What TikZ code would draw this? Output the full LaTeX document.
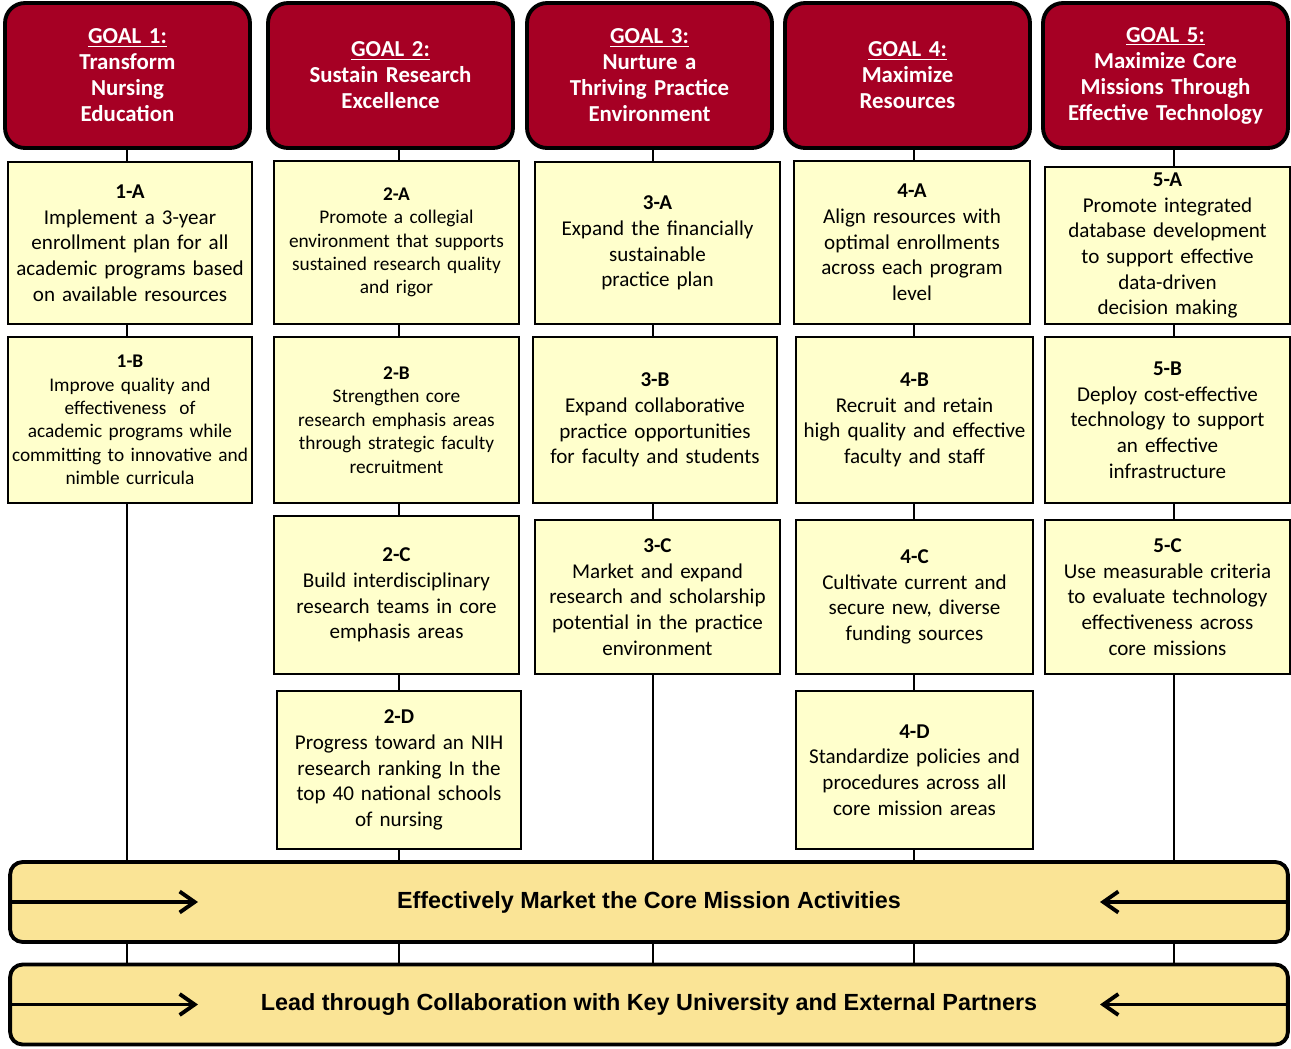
\documentclass[tikz,border=0pt]{standalone}
\usepackage{fontspec}
\setmainfont{Carlito}
\newfontfamily\barfont{Liberation Sans}
\usetikzlibrary{arrows.meta}

\definecolor{goalred}{HTML}{A60024}
\definecolor{objyellow}{HTML}{FFFFCC}
\definecolor{baryellow}{HTML}{FAE496}

\begin{document}
\begin{tikzpicture}[
        x=0.02cm, y=-0.02cm,  % one unit is one pixel of the layout, y runs down
        goal/.style={draw=black, line width=2.2pt, rounded corners=0.4cm, fill=goalred,
            text=white, font=\bfseries\fontsize{13}{14.8}\selectfont,
            minimum width=4.9cm, minimum height=2.9cm, text width=4.6cm, align=center},
        obj/.style={draw=black, line width=1pt, fill=objyellow, inner sep=0pt,
            font=\fontsize{12}{14.6}\selectfont, text width=4.7cm, align=center},
        small/.style={font=\fontsize{11}{13.3}\selectfont},
        bar/.style={draw=black, line width=2.2pt, rounded corners=0.25cm, fill=baryellow,
            minimum width=25.56cm, minimum height=1.6cm,
            font=\barfont\bfseries\fontsize{13.3}{16}\selectfont},
        link/.style={draw=black, line width=1pt},
        arr/.style={-{Straight Barb[length=3mm,width=4.2mm]}, line width=2.2pt}
    ]
    \useasboundingbox (0,0) rectangle (1291,1048);

    % Goals
    \node[goal] (g1) at (127.5,75.5) {\underline{GOAL 1:}\\Transform\\Nursing\\Education};
    \node[goal] (g2) at (390.5,75.5) {\underline{GOAL 2:}\\Sustain Research\\Excellence};
    \node[goal] (g3) at (649.5,75.5) {\underline{GOAL 3:}\\Nurture a\\Thriving Practice\\Environment};
    \node[goal] (g4) at (907.5,75.5) {\underline{GOAL 4:}\\Maximize\\Resources};
    \node[goal] (g5) at (1165.5,75.5) {\underline{GOAL 5:}\\Maximize Core\\Missions Through\\Effective Technology};

    % Objectives, goal 1
    \node[obj, minimum width=4.88cm, minimum height=3.24cm] (a1) at (130,243)
        {\textbf{1-A}\\Implement a 3-year\\enrollment plan for all\\academic programs based\\on available resources};
    \node[obj, small, text width=4.86cm, minimum width=4.88cm, minimum height=3.32cm] (b1) at (130,420)
        {\textbf{1-B}\\Improve quality and\\effectiveness\ \ of\\academic programs while\\committing to innovative and\\nimble curricula};

    % Objectives, goal 2
    \node[obj, small, minimum width=4.9cm, minimum height=3.26cm] (a2) at (396.5,242.5)
        {\textbf{2-A}\\Promote a collegial\\environment that supports\\sustained research quality\\and rigor};
    \node[obj, small, minimum width=4.9cm, minimum height=3.32cm] (b2) at (396.5,420)
        {\textbf{2-B}\\Strengthen core\\research emphasis areas\\through strategic faculty\\recruitment};
    \node[obj, minimum width=4.9cm, minimum height=3.16cm] (c2) at (396.5,595)
        {\textbf{2-C}\\Build interdisciplinary\\research teams in core\\emphasis areas};
    \node[obj, minimum width=4.88cm, minimum height=3.16cm] (d2) at (399,770)
        {\textbf{2-D}\\Progress toward an NIH\\research ranking In the\\top 40 national schools\\of nursing};

    % Objectives, goal 3
    \node[obj, minimum width=4.9cm, minimum height=3.24cm] (a3) at (657.5,243)
        {\textbf{3-A}\\Expand the financially\\sustainable\\practice plan};
    \node[obj, minimum width=4.88cm, minimum height=3.32cm] (b3) at (655,420)
        {\textbf{3-B}\\Expand collaborative\\practice opportunities\\for faculty and students};
    \node[obj, minimum width=4.9cm, minimum height=3.08cm] (c3) at (657.5,597)
        {\textbf{3-C}\\Market and expand\\research and scholarship\\potential in the practice\\environment};

    % Objectives, goal 4
    \node[obj, text width=4.6cm, minimum width=4.72cm, minimum height=3.26cm] (a4) at (912,242.5)
        {\textbf{4-A}\\Align resources with\\optimal enrollments\\across each program\\level};
    \node[obj, text width=4.6cm, minimum width=4.74cm, minimum height=3.32cm] (b4) at (914.5,420)
        {\textbf{4-B}\\Recruit and retain\\high quality and effective\\faculty and staff};
    \node[obj, text width=4.6cm, minimum width=4.74cm, minimum height=3.08cm] (c4) at (914.5,597)
        {\textbf{4-C}\\Cultivate current and\\secure new, diverse\\funding sources};
    \node[obj, text width=4.6cm, minimum width=4.74cm, minimum height=3.16cm] (d4) at (914.5,770)
        {\textbf{4-D}\\Standardize policies and\\procedures across all\\core mission areas};

    % Objectives, goal 5
    \node[obj, minimum width=4.9cm, minimum height=3.14cm] (a5) at (1167.5,245.5)
        {\textbf{5-A}\\Promote integrated\\database development\\to support effective\\data-driven\\decision making};
    \node[obj, minimum width=4.9cm, minimum height=3.32cm] (b5) at (1167.5,420)
        {\textbf{5-B}\\Deploy cost-effective\\technology to support\\an effective\\infrastructure};
    \node[obj, minimum width=4.9cm, minimum height=3.08cm] (c5) at (1167.5,597)
        {\textbf{5-C}\\Use measurable criteria\\to evaluate technology\\effectiveness across\\core missions};

    % Bars across all goals
    \node[bar] (mkt) at (649,902) {Effectively Market the Core Mission Activities};
    \node[bar] (lead) at (649,1004.5) {Lead through Collaboration with Key University and External Partners};

    % Columns the links run along
    \coordinate (col1) at (127,0);
    \coordinate (col2) at (399,0);
    \coordinate (col3) at (653,0);
    \coordinate (col4) at (914,0);
    \coordinate (col5) at (1174,0);

    % Links from each goal down to the bars
    \foreach \u/\v in {g1/a1, a1/b1, b1/mkt, mkt/lead}
        \draw[link] (\u.south -| col1) -- (\v.north -| col1);
    \foreach \u/\v in {g2/a2, a2/b2, b2/c2, c2/d2, d2/mkt, mkt/lead}
        \draw[link] (\u.south -| col2) -- (\v.north -| col2);
    \foreach \u/\v in {g3/a3, a3/b3, b3/c3, c3/mkt, mkt/lead}
        \draw[link] (\u.south -| col3) -- (\v.north -| col3);
    \foreach \u/\v in {g4/a4, a4/b4, b4/c4, c4/d4, d4/mkt, mkt/lead}
        \draw[link] (\u.south -| col4) -- (\v.north -| col4);
    \foreach \u/\v in {g5/a5, a5/b5, b5/c5, c5/mkt, mkt/lead}
        \draw[link] (\u.south -| col5) -- (\v.north -| col5);

    % Arrows inside the bars
    \coordinate (mktL) at (198,902);
    \coordinate (mktR) at (1100,902);
    \coordinate (leadL) at (198,1004.5);
    \coordinate (leadR) at (1100,1004.5);
    \draw[arr] (mkt.west) -- (mktL);
    \draw[arr] (mkt.east) -- (mktR);
    \draw[arr] (lead.west) -- (leadL);
    \draw[arr] (lead.east) -- (leadR);

\end{tikzpicture}
\end{document}
